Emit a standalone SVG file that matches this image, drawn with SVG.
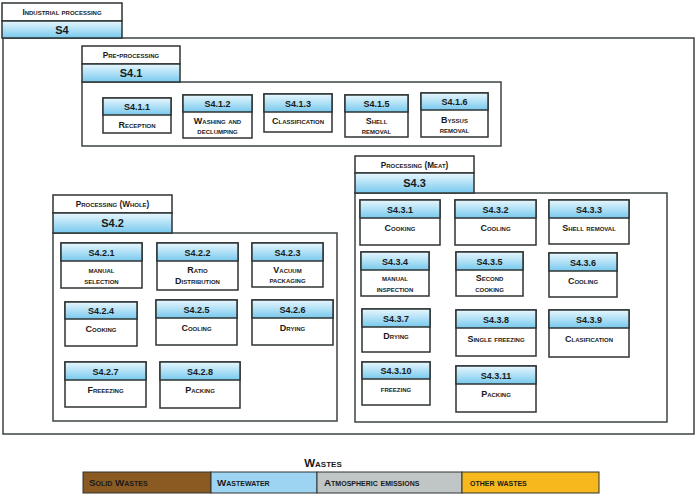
<svg xmlns="http://www.w3.org/2000/svg" width="700" height="498" viewBox="0 0 700 498">
<defs>
<linearGradient id="bl" x1="0" y1="0" x2="0" y2="1">
<stop offset="0" stop-color="#e8f7fd"/>
<stop offset="1" stop-color="#78c9ee"/>
</linearGradient>
<style>
.fr{fill:#fff;stroke:#3c4443;stroke-width:1.5}
.nb{fill:#fff;stroke:#2e3433;stroke-width:1.5}
.hd{fill:url(#bl);stroke:#2e3433;stroke-width:1.5}
text{font-family:"Liberation Sans",Arial,sans-serif;font-weight:bold;fill:#1a1a1a;text-anchor:middle}
.id{font-size:9px}
.lb{font-size:9px;font-variant:small-caps}
.tt{font-size:8.2px;font-variant:small-caps}
.big{font-size:11px}
.lg{font-size:9.8px;font-variant:small-caps;text-anchor:start}
</style>
</defs>
<rect width="700" height="498" fill="#fff"/>

<g id="S4">
<rect class="fr" x="3" y="38" width="691" height="396"/>
<rect class="nb" x="2" y="3" width="120" height="18"/>
<rect class="hd" x="2" y="21" width="120" height="17"/>
<text class="tt" x="62" y="15">Industrial processing</text>
<text class="big" x="62" y="33.5">S4</text>
</g>

<g id="S4.1">
<rect class="fr" x="82" y="82" width="419" height="64"/>
<rect class="nb" x="82" y="46" width="98" height="18"/>
<rect class="hd" x="82" y="64" width="98" height="18"/>
<text class="tt" x="131" y="58">Pre-processing</text>
<text class="big" x="131" y="77">S4.1</text>
</g>

<g id="S4.1.1"><rect class="nb" x="103" y="98" width="68" height="35"/><rect class="hd" x="103" y="98" width="68" height="17"/><text class="id" x="137" y="110">S4.1.1</text><text class="lb" x="137" y="127.5">Reception</text></g>
<g id="S4.1.2"><rect class="nb" x="183" y="95" width="69" height="43"/><rect class="hd" x="183" y="95" width="69" height="17"/><text class="id" x="217.5" y="107">S4.1.2</text><text class="lb" x="217.5" y="123.5">Washing and</text><text class="lb" x="217.5" y="133.5">declumping</text></g>
<g id="S4.1.3"><rect class="nb" x="264" y="94" width="68" height="38"/><rect class="hd" x="264" y="94" width="68" height="18"/><text class="id" x="298" y="106.5">S4.1.3</text><text class="lb" x="298" y="123.5">Classification</text></g>
<g id="S4.1.5"><rect class="nb" x="345" y="95" width="63" height="42"/><rect class="hd" x="345" y="95" width="63" height="17"/><text class="id" x="376.5" y="107">S4.1.5</text><text class="lb" x="376.5" y="123.5">Shell</text><text class="lb" x="376.5" y="133.5">removal</text></g>
<g id="S4.1.6"><rect class="nb" x="421" y="93" width="67" height="44"/><rect class="hd" x="421" y="93" width="67" height="17"/><text class="id" x="454.5" y="105">S4.1.6</text><text class="lb" x="454.5" y="122.5">Byssus</text><text class="lb" x="454.5" y="132.5">removal</text></g>

<g id="S4.2">
<rect class="fr" x="53" y="233" width="284" height="188"/>
<rect class="nb" x="53" y="195" width="119" height="18"/>
<rect class="hd" x="53" y="213" width="119" height="20"/>
<text class="tt" x="112.5" y="207">Processing (Whole)</text>
<text class="big" x="112.5" y="227">S4.2</text>
</g>

<g id="S4.2.1"><rect class="nb" x="61" y="243" width="81" height="45"/><rect class="hd" x="61" y="243" width="81" height="18"/><text class="id" x="101.5" y="255.5">S4.2.1</text><text class="lb" x="101.5" y="273">manual</text><text class="lb" x="101.5" y="283.5">selection</text></g>
<g id="S4.2.2"><rect class="nb" x="157" y="243" width="81" height="47"/><rect class="hd" x="157" y="243" width="81" height="18"/><text class="id" x="197.5" y="255.5">S4.2.2</text><text class="lb" x="197.5" y="272.5">Ratio</text><text class="lb" x="197.5" y="283.5">Distribution</text></g>
<g id="S4.2.3"><rect class="nb" x="252" y="243" width="71" height="44"/><rect class="hd" x="252" y="243" width="71" height="18"/><text class="id" x="287.5" y="255.5">S4.2.3</text><text class="lb" x="287.5" y="272.5">Vacuum</text><text class="lb" x="287.5" y="282.5">packaging</text></g>
<g id="S4.2.4"><rect class="nb" x="65" y="302" width="72" height="44"/><rect class="hd" x="65" y="302" width="72" height="17"/><text class="id" x="101" y="314">S4.2.4</text><text class="lb" x="101" y="332">Cooking</text></g>
<g id="S4.2.5"><rect class="nb" x="156" y="300" width="81" height="45"/><rect class="hd" x="156" y="300" width="81" height="18"/><text class="id" x="196.5" y="312.5">S4.2.5</text><text class="lb" x="196.5" y="330.5">Cooling</text></g>
<g id="S4.2.6"><rect class="nb" x="252" y="300" width="81" height="45"/><rect class="hd" x="252" y="300" width="81" height="18"/><text class="id" x="292.5" y="312.5">S4.2.6</text><text class="lb" x="292.5" y="330.5">Drying</text></g>
<g id="S4.2.7"><rect class="nb" x="65" y="362" width="81" height="45"/><rect class="hd" x="65" y="362" width="81" height="18"/><text class="id" x="105.5" y="374.5">S4.2.7</text><text class="lb" x="105.5" y="392.5">Freeezing</text></g>
<g id="S4.2.8"><rect class="nb" x="160" y="362" width="80" height="46"/><rect class="hd" x="160" y="362" width="80" height="18"/><text class="id" x="200" y="374.5">S4.2.8</text><text class="lb" x="200" y="392.5">Packing</text></g>

<g id="S4.3">
<rect class="fr" x="355" y="193" width="312" height="229"/>
<rect class="nb" x="355" y="156" width="119" height="17"/>
<rect class="hd" x="355" y="173" width="119" height="20"/>
<text class="tt" x="414.5" y="167.5">Processing (Meat)</text>
<text class="big" x="414.5" y="187">S4.3</text>
</g>

<g id="S4.3.1"><rect class="nb" x="360" y="200" width="80" height="45"/><rect class="hd" x="360" y="200" width="80" height="18"/><text class="id" x="400" y="212.5">S4.3.1</text><text class="lb" x="400" y="230.5">Cooking</text></g>
<g id="S4.3.2"><rect class="nb" x="455" y="200" width="81" height="45"/><rect class="hd" x="455" y="200" width="81" height="18"/><text class="id" x="495.5" y="212.5">S4.3.2</text><text class="lb" x="495.5" y="230.5">Cooling</text></g>
<g id="S4.3.3"><rect class="nb" x="549" y="200" width="80" height="44"/><rect class="hd" x="549" y="200" width="80" height="18"/><text class="id" x="589" y="212.5">S4.3.3</text><text class="lb" x="589" y="230.5">Shell removal</text></g>
<g id="S4.3.4"><rect class="nb" x="361" y="252" width="68" height="44"/><rect class="hd" x="361" y="252" width="68" height="18"/><text class="id" x="395" y="264.5">S4.3.4</text><text class="lb" x="395" y="281">manual</text><text class="lb" x="395" y="291.5">inspection</text></g>
<g id="S4.3.5"><rect class="nb" x="456" y="252" width="67" height="44"/><rect class="hd" x="456" y="252" width="67" height="18"/><text class="id" x="489.5" y="264.5">S4.3.5</text><text class="lb" x="489.5" y="281">Second</text><text class="lb" x="489.5" y="291.5">cooking</text></g>
<g id="S4.3.6"><rect class="nb" x="549" y="253" width="68" height="44"/><rect class="hd" x="549" y="253" width="68" height="18"/><text class="id" x="583" y="265.5">S4.3.6</text><text class="lb" x="583" y="283.5">Cooling</text></g>
<g id="S4.3.7"><rect class="nb" x="362" y="309" width="68" height="43"/><rect class="hd" x="362" y="309" width="68" height="18"/><text class="id" x="396" y="321.5">S4.3.7</text><text class="lb" x="396" y="338.5">Drying</text></g>
<g id="S4.3.8"><rect class="nb" x="456" y="310" width="80" height="46"/><rect class="hd" x="456" y="310" width="80" height="18"/><text class="id" x="496" y="322.5">S4.3.8</text><text class="lb" x="496" y="341.5">Single freezing</text></g>
<g id="S4.3.9"><rect class="nb" x="549" y="310" width="80" height="47"/><rect class="hd" x="549" y="310" width="80" height="18"/><text class="id" x="589" y="322.5">S4.3.9</text><text class="lb" x="589" y="341.5">Clasification</text></g>
<g id="S4.3.10"><rect class="nb" x="362" y="362" width="68" height="43"/><rect class="hd" x="362" y="362" width="68" height="17"/><text class="id" x="396" y="374">S4.3.10</text><text class="lb" x="396" y="391.5">freezing</text></g>
<g id="S4.3.11"><rect class="nb" x="456" y="366" width="80" height="46"/><rect class="hd" x="456" y="366" width="80" height="18"/><text class="id" x="496" y="378.5">S4.3.11</text><text class="lb" x="496" y="396.5">Packing</text></g>

<g id="connectors"></g>

<g id="legend">
<text x="323" y="467" style="font-variant:small-caps;font-size:11.5px">Wastes</text>
<rect x="83" y="472" width="128" height="21" fill="#8a5a22" stroke="#2e3433" stroke-width="1"/>
<rect x="211" y="472" width="106" height="21" fill="#9dd4f2" stroke="#2e3433" stroke-width="1"/>
<rect x="317" y="472" width="145" height="21" fill="#c0c6c5" stroke="#2e3433" stroke-width="1"/>
<rect x="462" y="472" width="137" height="21" fill="#f6b81c" stroke="#2e3433" stroke-width="1"/>
<text class="lg" x="89" y="486">Solid Wastes</text>
<text class="lg" x="217" y="486">Wastewater</text>
<text class="lg" x="324" y="486">Atmospheric emissions</text>
<text class="lg" x="470" y="486">other wastes</text>
</g>
</svg>
